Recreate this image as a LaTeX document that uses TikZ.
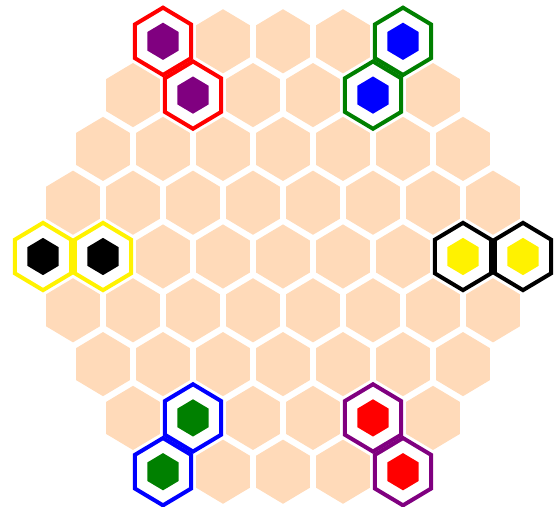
\documentclass[tikz,border=0pt]{standalone}
\definecolor{peach}{RGB}{255,218,185}
\definecolor{dpurple}{RGB}{128,0,128}
\definecolor{dgreen}{RGB}{0,128,0}
\tikzset{
  tile/.style={fill=peach, draw=none},
  ringfill/.style={fill=white, draw=none},
  ring/.style={draw=#1, line width=4pt, line join=miter},
  stone/.style={fill=#1, draw=none},
}
\newcommand{\hexshape}[4]{%
  \path[#4, shift={(#1,#2)}, yscale=1.035]
    (30:#3)--(90:#3)--(150:#3)--(210:#3)--(270:#3)--(330:#3)--cycle;}
\newcommand{\cellxy}[2]{%
  \pgfmathtruncatemacro\dd{abs(#1-4)}%
  \pgfmathsetmacro\cx{43+30*\dd+60*#2}%
  \pgfmathsetmacro\cy{41.3+53.8*#1}}
\newcommand{\piecefill}[2]{\cellxy{#1}{#2}\hexshape{\cx}{\cy}{32.5}{ringfill}}
\newcommand{\piece}[4]{\cellxy{#1}{#2}%
  \hexshape{\cx}{\cy}{32.5}{ring=#3}%
  \hexshape{\cx}{\cy}{18}{stone=#4}}
\begin{document}
\begin{tikzpicture}[x=1pt,y=-1pt]
\useasboundingbox (0,0) rectangle (556,506);
% board tiles
\foreach \r in {0,...,8}{
  \pgfmathtruncatemacro\d{abs(\r-4)}
  \pgfmathtruncatemacro\n{8-\d}
  \foreach \c in {0,...,\n}{
    \pgfmathsetmacro\tx{43+30*\d+60*\c}
    \pgfmathsetmacro\ty{41.3+53.8*\r}
    \hexshape{\tx}{\ty}{31}{tile}
  }
}
% white backgrounds of marked cells
\foreach \r/\c in {0/0,1/1,0/4,1/4,4/0,4/1,4/7,4/8,7/1,8/0,7/4,8/4}{
  \piecefill{\r}{\c}
}
% outlines and stones
\foreach \r/\c/\o/\f in {0/0/red/dpurple,1/1/red/dpurple,
                         0/4/dgreen/blue,1/4/dgreen/blue,
                         4/0/yellow/black,4/1/yellow/black,
                         4/7/black/yellow,4/8/black/yellow,
                         7/1/blue/dgreen,8/0/blue/dgreen,
                         7/4/dpurple/red,8/4/dpurple/red}{
  \piece{\r}{\c}{\o}{\f}
}
\end{tikzpicture}
\end{document}
